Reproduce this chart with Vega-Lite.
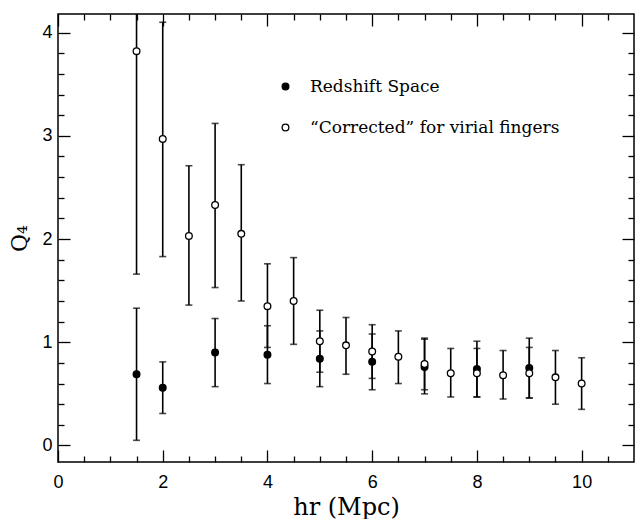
{
  "$schema": "https://vega.github.io/schema/vega-lite/v6.json",
  "width": 576,
  "height": 448,
  "autosize": {"type": "none"},
  "padding": {"left": 58, "top": 14, "right": 2, "bottom": 57},
  "background": "white",
  "config": {
    "view": {"stroke": "black", "strokeWidth": 1.5},
    "axis": {
      "domain": false,
      "grid": false,
      "labelFont": "Liberation Sans",
      "labelFontSize": 18,
      "labelColor": "black",
      "tickColor": "black",
      "tickWidth": 1.3,
      "tickCount": 100,
      "titleColor": "black",
      "titleFont": "DejaVu Serif",
      "titleFontWeight": "normal",
      "titleFontSize": 22
    },
    "legend": {
      "labelFont": "DejaVu Serif",
      "labelFontSize": 17,
      "labelColor": "black",
      "labelLimit": 0
    }
  },
  "data": {
    "values": [
      {"r": 1.5, "series": "Redshift Space", "q": 0.69, "lo": 0.05, "hi": 1.33},
      {"r": 2, "series": "Redshift Space", "q": 0.56, "lo": 0.31, "hi": 0.81},
      {"r": 3, "series": "Redshift Space", "q": 0.90, "lo": 0.57, "hi": 1.23},
      {"r": 4, "series": "Redshift Space", "q": 0.88, "lo": 0.60, "hi": 1.16},
      {"r": 5, "series": "Redshift Space", "q": 0.84, "lo": 0.57, "hi": 1.11},
      {"r": 6, "series": "Redshift Space", "q": 0.81, "lo": 0.54, "hi": 1.08},
      {"r": 7, "series": "Redshift Space", "q": 0.76, "lo": 0.50, "hi": 1.03},
      {"r": 8, "series": "Redshift Space", "q": 0.74, "lo": 0.47, "hi": 1.01},
      {"r": 9, "series": "Redshift Space", "q": 0.75, "lo": 0.46, "hi": 1.04},
      {"r": 1.5, "series": "“Corrected” for virial fingers", "q": 3.82, "lo": 1.66, "hi": 5.98},
      {"r": 2, "series": "“Corrected” for virial fingers", "q": 2.97, "lo": 1.83, "hi": 4.10},
      {"r": 2.5, "series": "“Corrected” for virial fingers", "q": 2.03, "lo": 1.36, "hi": 2.71},
      {"r": 3, "series": "“Corrected” for virial fingers", "q": 2.33, "lo": 1.53, "hi": 3.12},
      {"r": 3.5, "series": "“Corrected” for virial fingers", "q": 2.05, "lo": 1.40, "hi": 2.72},
      {"r": 4, "series": "“Corrected” for virial fingers", "q": 1.35, "lo": 0.95, "hi": 1.76},
      {"r": 4.5, "series": "“Corrected” for virial fingers", "q": 1.40, "lo": 0.98, "hi": 1.82},
      {"r": 5, "series": "“Corrected” for virial fingers", "q": 1.01, "lo": 0.71, "hi": 1.31},
      {"r": 5.5, "series": "“Corrected” for virial fingers", "q": 0.97, "lo": 0.69, "hi": 1.24},
      {"r": 6, "series": "“Corrected” for virial fingers", "q": 0.91, "lo": 0.65, "hi": 1.17},
      {"r": 6.5, "series": "“Corrected” for virial fingers", "q": 0.86, "lo": 0.60, "hi": 1.11},
      {"r": 7, "series": "“Corrected” for virial fingers", "q": 0.79, "lo": 0.54, "hi": 1.04},
      {"r": 7.5, "series": "“Corrected” for virial fingers", "q": 0.70, "lo": 0.47, "hi": 0.94},
      {"r": 8, "series": "“Corrected” for virial fingers", "q": 0.70, "lo": 0.47, "hi": 0.94},
      {"r": 8.5, "series": "“Corrected” for virial fingers", "q": 0.68, "lo": 0.45, "hi": 0.92},
      {"r": 9, "series": "“Corrected” for virial fingers", "q": 0.70, "lo": 0.46, "hi": 0.95},
      {"r": 9.5, "series": "“Corrected” for virial fingers", "q": 0.66, "lo": 0.40, "hi": 0.92},
      {"r": 10, "series": "“Corrected” for virial fingers", "q": 0.60, "lo": 0.35, "hi": 0.85}
    ]
  },
  "resolve": {"axis": {"x": "independent", "y": "independent"}},
  "layer": [
    {
      "mark": {"type": "rule", "clip": true, "color": "black", "strokeWidth": 1.6},
      "encoding": {
        "x": {
          "field": "r", "type": "quantitative",
          "scale": {"domain": [0, 11], "nice": false, "zero": false},
          "axis": {
            "orient": "bottom",
            "title": "hr (Mpc)",
            "tickCount": 100,
            "values": [0,0.5,1,1.5,2,2.5,3,3.5,4,4.5,5,5.5,6,6.5,7,7.5,8,8.5,9,9.5,10,10.5],
            "tickSize": {"condition": {"test": "datum.value % 2 === 0", "value": -12}, "value": -6},
            "labelExpr": "datum.value % 2 === 0 ? toString(datum.value) : ''",
            "labelPadding": 23,
            "labelFlush": false,
            "labelOverlap": false,
            "titleFontSize": 24,
            "titleX": 288,
            "titleY": 52,
            "titleBaseline": "alphabetic",
            "titleAlign": "center"
          }
        },
        "y": {
          "field": "lo", "type": "quantitative",
          "scale": {"domain": [-0.16, 4.18], "nice": false, "zero": false},
          "axis": {
            "orient": "left",
            "title": "Q₄",
            "tickCount": 100,
            "values": [0,0.2,0.4,0.6,0.8,1,1.2,1.4,1.6,1.8,2,2.2,2.4,2.6,2.8,3,3.2,3.4,3.6,3.8,4],
            "tickSize": {"condition": {"test": "datum.value % 1 === 0", "value": -12}, "value": -6},
            "labelExpr": "datum.value % 1 === 0 ? toString(datum.value) : ''",
            "labelPadding": 18,
            "labelFlush": false,
            "labelOverlap": false,
            "titleX": -32,
            "titleY": 224,
            "titleAngle": -90,
            "titleAlign": "center",
            "titleBaseline": "alphabetic"
          }
        },
        "y2": {"field": "hi"}
      }
    },
    {
      "mark": {"type": "tick", "clip": true, "color": "black", "thickness": 1.6, "size": 7, "orient": "horizontal"},
      "encoding": {
        "x": {
          "field": "r", "type": "quantitative",
          "axis": {
            "orient": "top",
            "title": null,
            "labels": false,
            "tickCount": 100,
            "values": [0,0.5,1,1.5,2,2.5,3,3.5,4,4.5,5,5.5,6,6.5,7,7.5,8,8.5,9,9.5,10,10.5],
            "tickSize": {"condition": {"test": "datum.value % 2 === 0", "value": -12}, "value": -6}
          }
        },
        "y": {
          "field": "lo", "type": "quantitative",
          "axis": {
            "orient": "right",
            "title": null,
            "labels": false,
            "tickCount": 100,
            "values": [0,0.2,0.4,0.6,0.8,1,1.2,1.4,1.6,1.8,2,2.2,2.4,2.6,2.8,3,3.2,3.4,3.6,3.8,4],
            "tickSize": {"condition": {"test": "datum.value % 1 === 0", "value": -12}, "value": -6}
          }
        }
      }
    },
    {
      "mark": {"type": "tick", "clip": true, "color": "black", "thickness": 1.6, "size": 7, "orient": "horizontal"},
      "encoding": {
        "x": {"field": "r", "type": "quantitative", "axis": null},
        "y": {"field": "hi", "type": "quantitative", "axis": null}
      }
    },
    {
      "mark": {"type": "point", "shape": "circle", "filled": true, "stroke": "black", "strokeWidth": 1.3, "size": 45, "opacity": 1, "clip": true},
      "encoding": {
        "x": {"field": "r", "type": "quantitative", "axis": null},
        "y": {"field": "q", "type": "quantitative", "axis": null},
        "fill": {
          "field": "series", "type": "nominal",
          "scale": {"domain": ["Redshift Space", "“Corrected” for virial fingers"], "range": ["black", "white"]},
          "legend": {
            "title": null,
            "orient": "none",
            "legendX": 219,
            "legendY": 64,
            "symbolType": "circle",
            "symbolSize": 45,
            "symbolStrokeColor": "black",
            "symbolStrokeWidth": 1.3,
            "labelOffset": 16,
            "rowPadding": 23
          }
        }
      }
    }
  ]
}
